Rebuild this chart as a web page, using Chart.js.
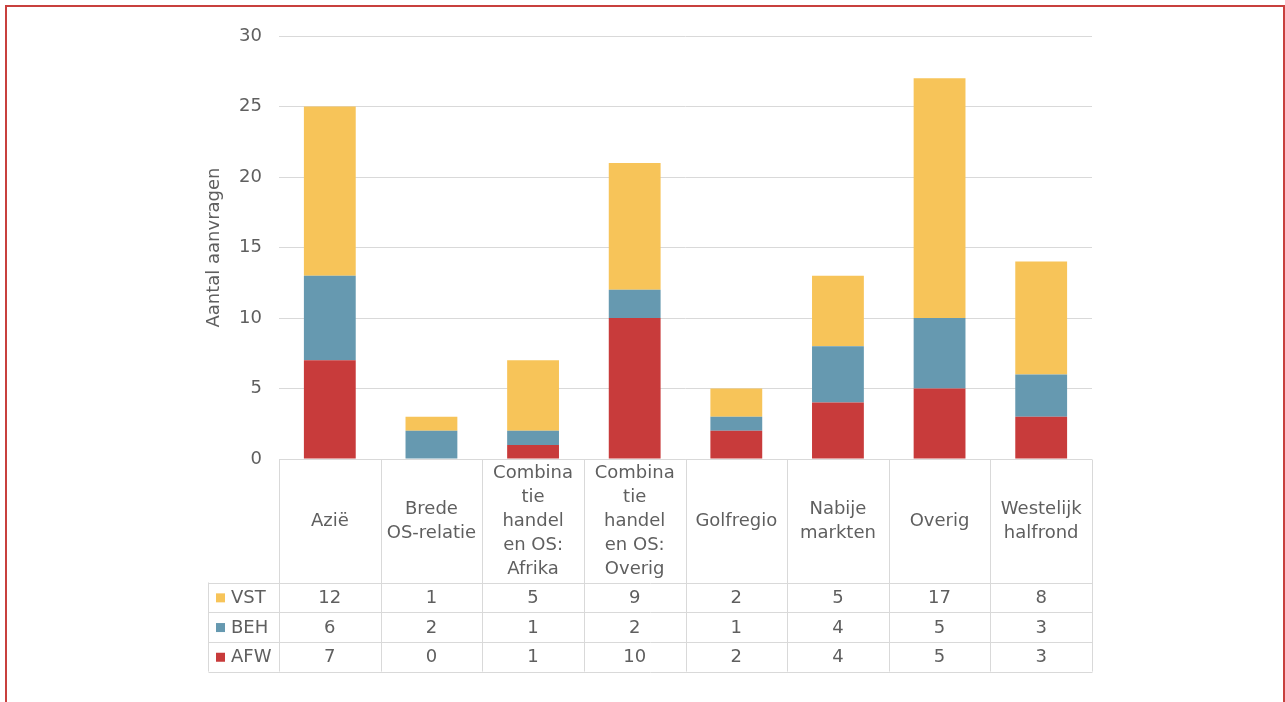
<!DOCTYPE html>
<html>
<head>
<meta charset="utf-8">
<script src="https://cdn.jsdelivr.net/npm/chart.js@4"></script>
<style>
  body { margin: 0; background: #fff; }
  #wrap { position: relative; width: 1285px; height: 702px; overflow: hidden; }
  #frame { position: absolute; left: 5px; top: 5px; width: 1276px; height: 720px; border: 2px solid #c8403e; }
  canvas { position: absolute; left: 0; top: 0; }
</style>
</head>
<body>
<div id="wrap">
  <div id="frame"></div>
  <canvas id="myChart" width="1285" height="702"></canvas>
</div>
<script>
///// STACKED BAR CHART WITH DATA TABLE /////

// Datas
const categories = [
    ['Azië'],
    ['Brede', 'OS-relatie'],
    ['Combina', 'tie', 'handel', 'en OS:', 'Afrika'],
    ['Combina', 'tie', 'handel', 'en OS:', 'Overig'],
    ['Golfregio'],
    ['Nabije', 'markten'],
    ['Overig'],
    ['Westelijk', 'halfrond']
];
const vstData = [12, 1, 5, 9, 2, 5, 17, 8];
const behData = [6, 2, 1, 2, 1, 4, 5, 3];
const afwData = [7, 0, 1, 10, 2, 4, 5, 3];
const yTicks = [0, 5, 10, 15, 20, 25, 30];

const colors = {
    VST: 'rgb(247, 196, 89)',
    BEH: 'rgb(102, 153, 176)',
    AFW: 'rgb(200, 59, 59)'
};
const textColor = '#5f5f5f';
const lineColor = '#d9d9d9';
const fontFamily = '"DejaVu Sans", sans-serif';

// data table under the plot (rows in the same order as the original)
const tableRows = [
    { label: 'VST', values: vstData },
    { label: 'BEH', values: behData },
    { label: 'AFW', values: afwData }
];

const dataTable = {
    id: 'dataTable',
    afterDraw(chart) {
        const ctx = chart.ctx;
        const area = chart.chartArea;
        const xScale = chart.scales.x;
        const n = categories.length;
        const colW = (area.right - area.left) / n;
        const top = Math.round(area.bottom) + 0.5;
        const headerBottom = top + 123;
        const rowH = 29.7;
        const tableBottom = headerBottom + rowH * tableRows.length;
        const legendLeft = 208.5;

        ctx.save();
        ctx.strokeStyle = lineColor;
        ctx.lineWidth = 1;
        ctx.beginPath();
        // vertical lines of the category columns
        for (let i = 0; i <= n; i++) {
            const x = Math.round(area.left + i * colW) + 0.5;
            ctx.moveTo(x, top);
            ctx.lineTo(x, tableBottom);
        }
        // top of header
        ctx.moveTo(area.left, top);
        ctx.lineTo(area.right, top);
        // row lines incl. legend column
        for (let r = 0; r <= tableRows.length; r++) {
            const y = Math.round(headerBottom + r * rowH) + 0.5;
            ctx.moveTo(legendLeft, y);
            ctx.lineTo(Math.round(area.right) + 0.5, y);
        }
        ctx.moveTo(legendLeft, headerBottom);
        ctx.lineTo(legendLeft, tableBottom);
        ctx.stroke();

        ctx.fillStyle = textColor;
        ctx.font = '18px ' + fontFamily;
        ctx.textAlign = 'center';
        ctx.textBaseline = 'middle';

        // category header labels
        const lineH = 24;
        const midHeader = (top + headerBottom) / 2;
        categories.forEach((lines, i) => {
            const cx = xScale.getPixelForValue(i);
            const y0 = midHeader - (lines.length - 1) * lineH / 2;
            lines.forEach((t, k) => ctx.fillText(t, cx, y0 + k * lineH));
        });

        // rows
        tableRows.forEach((row, r) => {
            const cy = headerBottom + r * rowH + rowH / 2 + 1;
            ctx.fillStyle = colors[row.label];
            ctx.fillRect(216, cy - 5, 9, 9);
            ctx.fillStyle = textColor;
            ctx.textAlign = 'left';
            ctx.fillText(row.label, 231, cy);
            ctx.textAlign = 'center';
            row.values.forEach((v, i) => {
                ctx.fillText(String(v), xScale.getPixelForValue(i), cy);
            });
        });
        ctx.restore();
    }
};

Chart.defaults.font.family = fontFamily;
Chart.defaults.color = textColor;

const myChart = new Chart('myChart', {
    type: 'bar',
    data: {
        labels: categories.map(c => c.join(' ')),
        datasets: [
            { label: 'AFW', data: afwData, backgroundColor: colors.AFW },
            { label: 'BEH', data: behData, backgroundColor: colors.BEH },
            { label: 'VST', data: vstData, backgroundColor: colors.VST }
        ]
    },
    options: {
        responsive: false,
        animation: false,
        layout: { padding: { left: 195, right: 193, top: 36, bottom: 243 } },
        datasets: { bar: { categoryPercentage: 1, barPercentage: 0.51 } },
        plugins: {
            legend: { display: false },
            tooltip: { enabled: false }
        },
        scales: {
            x: { stacked: true, display: false },
            y: {
                stacked: true,
                min: yTicks[0],
                max: yTicks[yTicks.length - 1],
                afterBuildTicks: (scale) => { scale.ticks = yTicks.map(v => ({ value: v })); },
                afterFit: (scale) => { scale.width = 84; },
                border: { display: false },
                grid: { color: lineColor, drawTicks: false },
                ticks: { padding: 17, font: { size: 18 }, color: textColor },
                title: {
                    display: true,
                    text: 'Aantal aanvragen',
                    font: { size: 18 },
                    color: textColor,
                    padding: { top: 9, bottom: 0 }
                }
            }
        }
    },
    plugins: [dataTable]
});
</script>
</body>
</html>
